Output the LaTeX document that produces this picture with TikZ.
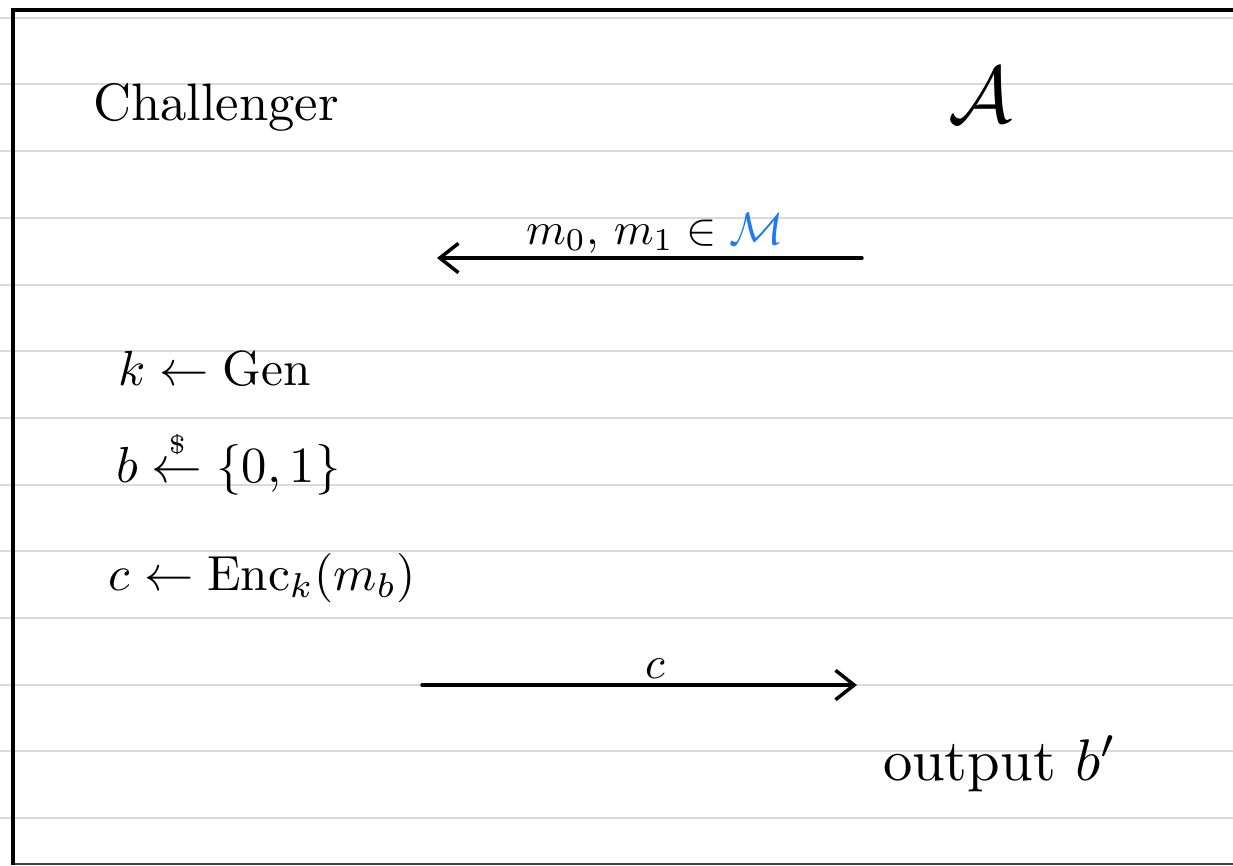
\documentclass[tikz,border=0pt]{standalone}
\usepackage{amsmath,amssymb}
\usetikzlibrary{arrows.meta}
\definecolor{rule}{RGB}{218,218,218}
\definecolor{mblue}{RGB}{28,122,242}
\begin{document}
\begin{tikzpicture}[x=0.75pt,y=-0.75pt,
  ink/.style={line width=2.6pt,line cap=round},
  msg/.style={ink,-{Straight Barb[length=14pt,width=22pt,line width=2.6pt]}},
  txt/.style={inner sep=0pt,font=\normalsize},
  big/.style={txt,scale=3.4}]
\useasboundingbox (0,0) rectangle (1233,865);
\fill[white] (0,0) rectangle (1233,865);
% ruled paper
\foreach \k in {0,...,12}
  \draw[rule,line width=1.5pt] (0,{17.7+66.7*\k}) -- (1233,{17.7+66.7*\k});
% frame
\draw[line width=1.5pt,black!75] (13,864) -- (1233,864);
\draw[line width=3pt] (13,865) -- (13,10) -- (1233,10);
% parties
\node[txt,scale=3.95,anchor=base] (chal) at (216,120) {Challenger};
\node[txt,scale=6,anchor=base] (adv) at (980,122) {$\mathcal{A}$};
% first message
\coordinate (m1s) at (862,258);
\coordinate (m1e) at (437,258);
\draw[msg] (m1s) -- (m1e);
\node[big,anchor=base] (m1l) at (655,244) {$m_0,\, m_1 \in {\color{mblue}\mathcal{M}}$};
% challenger steps
\node[txt,scale=3.7,anchor=base west] (kgen) at (118,385) {$k \leftarrow \mathrm{Gen}$};
\node[txt,scale=3.8,anchor=base west] (bsel) at (115,482) {$b \overset{\scriptscriptstyle\$}{\leftarrow} \{0,1\}$};
\node[txt,scale=3.7,anchor=base west] (cenc) at (108,590) {$c \leftarrow \mathrm{Enc}_k(m_b)$};
% second message
\coordinate (m2s) at (422,685);
\coordinate (m2e) at (857,685);
\draw[msg] (m2s) -- (m2e);
\node[big,anchor=base] (m2l) at (655,678) {$c$};
% output
\node[txt,scale=4.4,anchor=base] (outp) at (1000,780) {output $b'$};
\end{tikzpicture}
\end{document}
